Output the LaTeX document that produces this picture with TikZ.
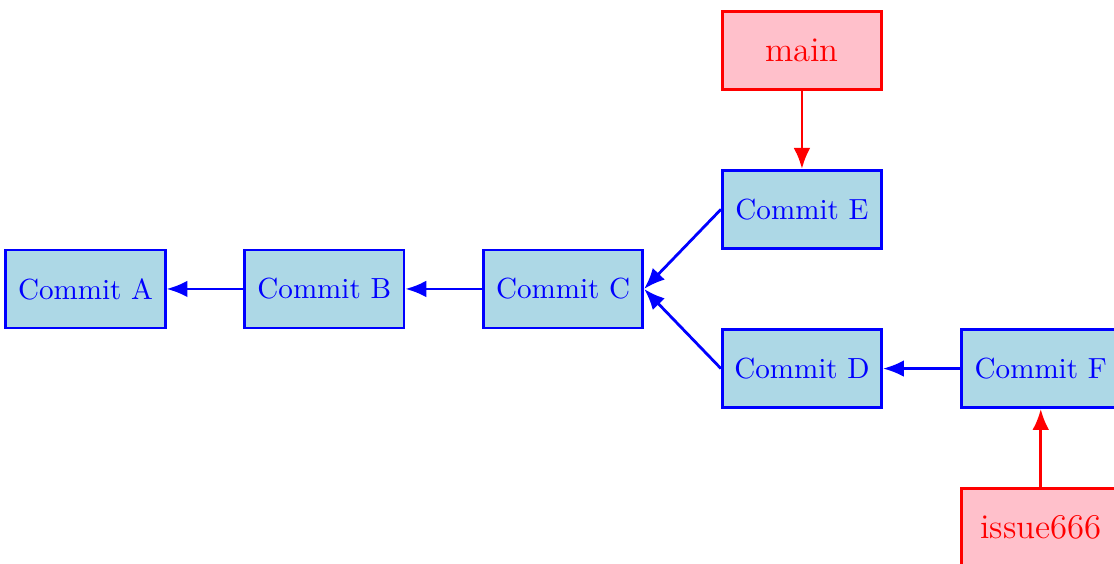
\documentclass[tikz,border=0pt]{standalone}
\usetikzlibrary{arrows.meta}
\definecolor{lblue}{RGB}{173,216,230}
\definecolor{lpink}{RGB}{255,192,203}
\tikzset{
  commit/.style={rectangle, draw=blue, fill=lblue, text=blue, line width=1pt,
    minimum width=2cm, minimum height=0.98cm, inner sep=2pt, font=\fontsize{10.4}{12.5}\selectfont},
  branch/.style={rectangle, draw=red, fill=lpink, text=red, line width=1pt,
    minimum width=2cm, minimum height=0.98cm, inner sep=2pt, font=\fontsize{12.4}{15}\selectfont},
  parent/.style={draw=blue, line width=1pt, -{Latex[length=7.5pt,width=6pt]}},
  ref/.style={draw=red, line width=1pt, -{Latex[length=7.5pt,width=6pt]}}
}
\begin{document}
\begin{tikzpicture}
\useasboundingbox (-1.074,-3.455) rectangle (12.92,3.63);
\node[commit] (A) at (0,0) {Commit A};
\node[commit] (B) at (3,0) {Commit B};
\node[commit] (C) at (6,0) {Commit C};
\node[commit] (E) at (9,1) {Commit E};
\node[commit] (D) at (9,-1) {Commit D};
\node[commit] (F) at (12,-1) {Commit F};
\node[branch] (main) at (9,3) {main};
\node[branch] (issue) at (12,-3) {issue666};
\draw[parent] (B.west) -- (A.east);
\draw[parent] (C.west) -- (B.east);
\draw[parent] (E.west) -- (C.east);
\draw[parent] (D.west) -- (C.east);
\draw[parent] (F.west) -- (D.east);
\draw[ref] (main.south) -- (E.north);
\draw[ref] (issue.north) -- (F.south);
\end{tikzpicture}
\end{document}
